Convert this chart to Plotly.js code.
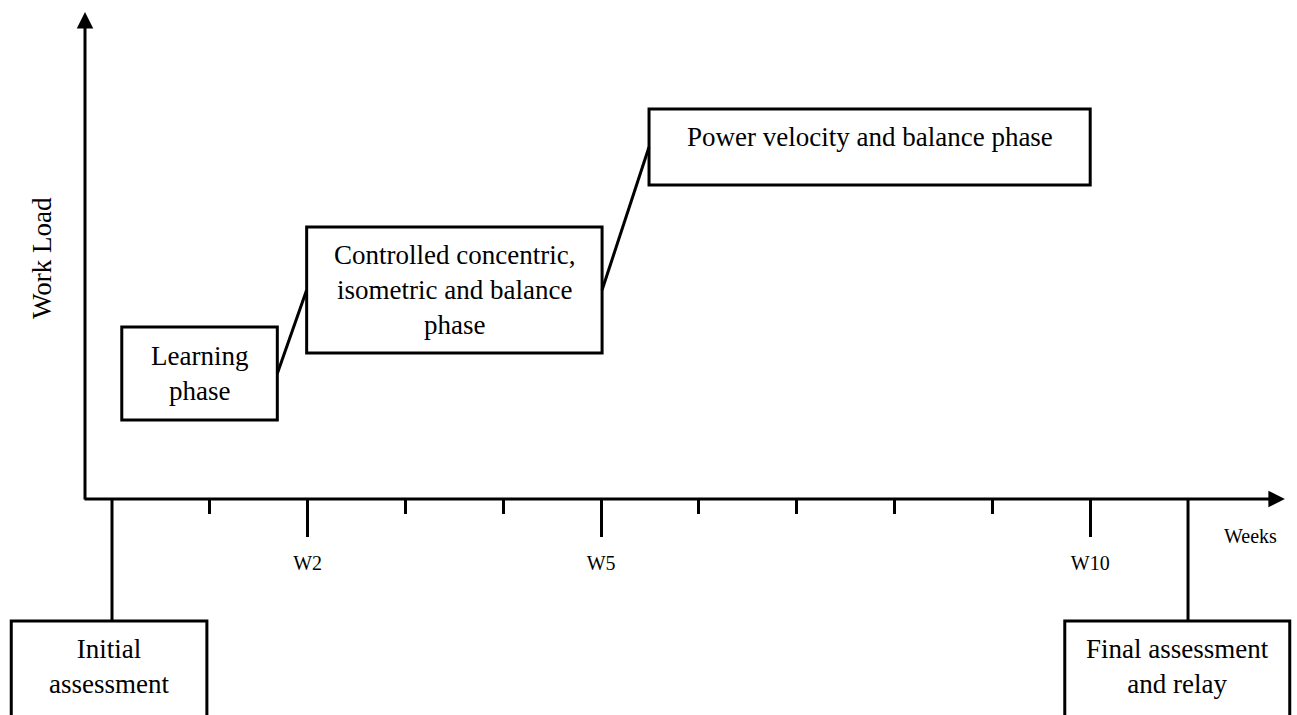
<!DOCTYPE html>
<html>
<head>
<meta charset="utf-8">
<script src="https://cdn.plot.ly/plotly-3.0.1.min.js"></script>
<style>
  html, body { margin: 0; padding: 0; background: #ffffff; }
  #chart { width: 1297px; height: 715px; }
</style>
</head>
<body>
<div id="chart"></div>
<script>
// ---- Data ----
var weekTickVals = [2, 5, 10];
var weekTickText = ['W2', 'W5', 'W10'];
var weekMinorVals = [1, 3, 4, 6, 7, 8, 9];

var phaseNames = ['Learning<br>phase',
                  'Controlled concentric,<br>isometric and balance<br>phase',
                  'Power velocity and balance phase'];
var phaseStartWeek = [0.10, 1.99, 5.49];
var phaseEndWeek = [1.69, 5.01, 10.0];
var phaseLoad = [12.55, 20.9, 35.2];

var assessNames = ['Initial<br>assessment', 'Final assessment<br>and relay'];
var assessWeek = [0, 11];

var xAxisLabel = 'Weeks';
var yAxisLabel = 'Work Load';

// ---- Layout constants (style / geometry) ----
var FONT = '"Liberation Serif", "Times New Roman", Times, serif';
var PX_PER_WEEK = 97.82, ORIGIN_PX = 112;       // week 0 at pixel 112
var PX_PER_LOAD = 10, AXIS_PX = 499;             // load 0 at pixel 499
var W = 1297, H = 715;
var xRange = [-ORIGIN_PX / PX_PER_WEEK, (W - ORIGIN_PX) / PX_PER_WEEK];
var yRange = [(AXIS_PX - H) / PX_PER_LOAD, AXIS_PX / PX_PER_LOAD];
var boxHalfHeight = [4.65, 6.3, 3.8];
var textShiftPx = [0, 0, 10];
var assessBoxSpan = [[-1.03, 0.97], [-1.26, 1.04]];
var assessBoxTop = -12.2;
var assessTextY = -16.7;
var yAxisX = -0.276;
var lw = 3;

var shapes = [], annotations = [];

// phase boxes
for (var i = 0; i < phaseNames.length; i++) {
  var yc = phaseLoad[i];
  shapes.push({type: 'rect', xref: 'x', yref: 'y',
    x0: phaseStartWeek[i], x1: phaseEndWeek[i],
    y0: yc - boxHalfHeight[i], y1: yc + boxHalfHeight[i],
    line: {color: '#000', width: lw}, fillcolor: 'rgba(255,255,255,0)'});
  annotations.push({xref: 'x', yref: 'y',
    x: (phaseStartWeek[i] + phaseEndWeek[i]) / 2, y: yc, yshift: textShiftPx[i],
    text: phaseNames[i], showarrow: false, xanchor: 'center', yanchor: 'middle',
    font: {family: FONT, size: 27, color: '#000'}});
}

// assessment boxes + long connector lines
for (var j = 0; j < assessNames.length; j++) {
  var wk = assessWeek[j];
  var x0 = wk + assessBoxSpan[j][0], x1 = wk + assessBoxSpan[j][1];
  shapes.push({type: 'line', xref: 'x', yref: 'y', x0: wk, x1: wk, y0: 0, y1: assessBoxTop,
    line: {color: '#000', width: lw}});
  shapes.push({type: 'rect', xref: 'x', yref: 'y', x0: x0, x1: x1,
    y0: assessBoxTop, y1: yRange[0] - 3,
    line: {color: '#000', width: lw}, fillcolor: 'rgba(255,255,255,0)'});
  annotations.push({xref: 'x', yref: 'y', x: (x0 + x1) / 2, y: assessTextY,
    text: assessNames[j], showarrow: false, xanchor: 'center', yanchor: 'middle',
    font: {family: FONT, size: 27, color: '#000'}});
}

// axes with arrowheads
annotations.push({xref: 'x', yref: 'y', axref: 'x', ayref: 'y',
  x: yAxisX, y: 48.7, ax: yAxisX, ay: -0.2, text: '', showarrow: true,
  arrowhead: 2, arrowsize: 1.1, arrowwidth: lw, arrowcolor: '#000'});
annotations.push({xref: 'x', yref: 'y', axref: 'x', ayref: 'y',
  x: 11.99, y: 0, ax: yAxisX - 0.02, ay: 0, text: '', showarrow: true,
  arrowhead: 2, arrowsize: 1.1, arrowwidth: lw, arrowcolor: '#000'});

// axis labels
annotations.push({xref: 'paper', yref: 'paper', x: 42 / W, y: 1 - 258 / H,
  text: yAxisLabel, textangle: -90, showarrow: false, xanchor: 'center', yanchor: 'middle',
  font: {family: FONT, size: 27, color: '#000'}});
annotations.push({xref: 'paper', yref: 'paper', x: 1250 / W, y: 1 - 536 / H,
  text: xAxisLabel, showarrow: false, xanchor: 'center', yanchor: 'middle',
  font: {family: FONT, size: 20, color: '#000'}});

// connector lines between phases
var cx = [], cy = [];
for (var k = 0; k < phaseNames.length - 1; k++) {
  cx.push(phaseEndWeek[k], phaseStartWeek[k + 1], null);
  cy.push(phaseLoad[k], phaseLoad[k + 1], null);
}

var traces = [{
  type: 'scatter', mode: 'lines', x: cx, y: cy,
  line: {color: '#000', width: lw}, hoverinfo: 'skip', showlegend: false
}];

var layout = {
  width: W, height: H,
  margin: {l: 0, r: 0, t: 0, b: 0, pad: 0},
  paper_bgcolor: '#fff', plot_bgcolor: '#fff',
  showlegend: false,
  xaxis: {
    range: xRange, anchor: 'free', position: (-yRange[0]) / (yRange[1] - yRange[0]),
    showgrid: false, zeroline: false, showline: false,
    tickmode: 'array', tickvals: weekTickVals, ticktext: weekTickText,
    ticks: 'outside', ticklen: 37, tickwidth: lw, tickcolor: '#000',
    ticklabelstandoff: 9,
    tickfont: {family: FONT, size: 20, color: '#000'},
    minor: {tickmode: 'array', tickvals: weekMinorVals, ticks: 'outside',
            ticklen: 14, tickwidth: lw, tickcolor: '#000', showgrid: false},
    fixedrange: true
  },
  yaxis: {range: yRange, visible: false, showgrid: false, zeroline: false, fixedrange: true},
  shapes: shapes,
  annotations: annotations
};

Plotly.newPlot('chart', traces, layout, {displayModeBar: false, staticPlot: true});
</script>
</body>
</html>
